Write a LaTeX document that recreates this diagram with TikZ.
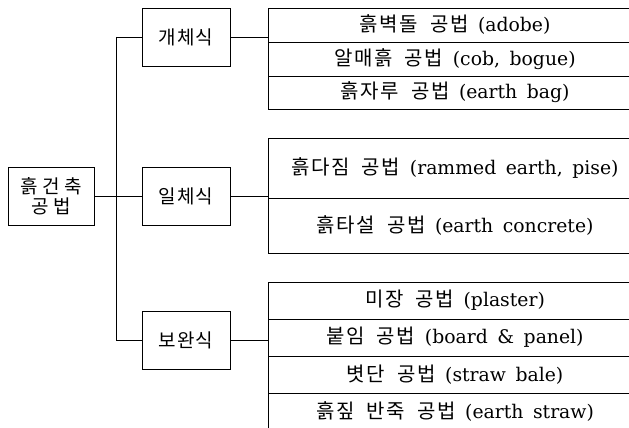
\documentclass[tikz,border=0pt]{standalone}
\usepackage{fontspec}
\setmainfont[WordSpace=1.6]{DejaVu Serif}
\newfontfamily\krfont[LetterSpace=8,WordSpace=2]{Noto Sans CJK KR}
\newfontfamily\krwide[LetterSpace=24]{Noto Sans CJK KR}
\newfontfamily\krmid[LetterSpace=6]{Noto Sans CJK KR}
\newcommand{\K}[1]{{\fontsize{20}{24}\krfont #1}}
\begin{document}
\begin{tikzpicture}[x=1pt,y=-1pt,
  line width=0.8pt,
  box/.style={draw, inner sep=0pt, font=\fontsize{19}{23}\selectfont},
  rowbox/.style={draw, inner sep=0pt, minimum width=374pt, font=\fontsize{18.8}{22}\selectfont},
  conn/.style={draw, line width=0.8pt}]
\useasboundingbox (0,0) rectangle (629,428);
\clip (0,0) rectangle (629,428);
% root
\node[box, minimum width=86pt, minimum height=58pt, align=center] (root) at (51,196) {{\krwide 흙건축}\\[-3pt]{\krwide 공법}};
% level 2
\node[box, minimum width=88pt, minimum height=58pt] (a) at (186,37) {{\krmid 개체식}};
\node[box, minimum width=88pt, minimum height=58pt] (b) at (186,196) {{\krmid 일체식}};
\node[box, minimum width=88pt, minimum height=58pt] (c) at (186,340) {{\krmid 보완식}};
% group 1
\node[rowbox, minimum height=34pt] (a1) at (455,25) {\K{흙벽돌 공법} (adobe)};
\node[rowbox, minimum height=34pt] (a2) at (455,59) {\K{알매흙 공법} (cob, bogue)};
\node[rowbox, minimum height=33pt] (a3) at (455,92.5) {\K{흙자루 공법} (earth bag)};
% group 2
\node[rowbox, minimum height=60pt] (b1) at (455,168) {\K{흙다짐 공법} (rammed earth, pise)};
\node[rowbox, minimum height=55pt] (b2) at (455,225.5) {\K{흙타설 공법} (earth concrete)};
% group 3
\node[rowbox, minimum height=37pt] (c1) at (455,300.5) {\K{미장 공법} (plaster)};
\node[rowbox, minimum height=37pt] (c2) at (455,337.5) {\K{붙임 공법} (board \& panel)};
\node[rowbox, minimum height=37pt] (c3) at (455,374.5) {\K{볏단 공법} (straw bale)};
\node[rowbox, minimum height=37pt] (c4) at (455,411.5) {\K{흙짚 반죽 공법} (earth straw)};
% trunk
\coordinate (ta) at (116,37);
\coordinate (tc) at (116,340);
\draw[conn] (root.east) -- (b.west);
\draw[conn] (ta) -- (tc);
\draw[conn] (ta) -- (a.west);
\draw[conn] (tc) -- (c.west);
\draw[conn] (a.east) -- (a.east -| a1.west);
\draw[conn] (b.east) -- (b.east -| b1.west);
\draw[conn] (c.east) -- (c.east -| c2.west);
\end{tikzpicture}
\end{document}
